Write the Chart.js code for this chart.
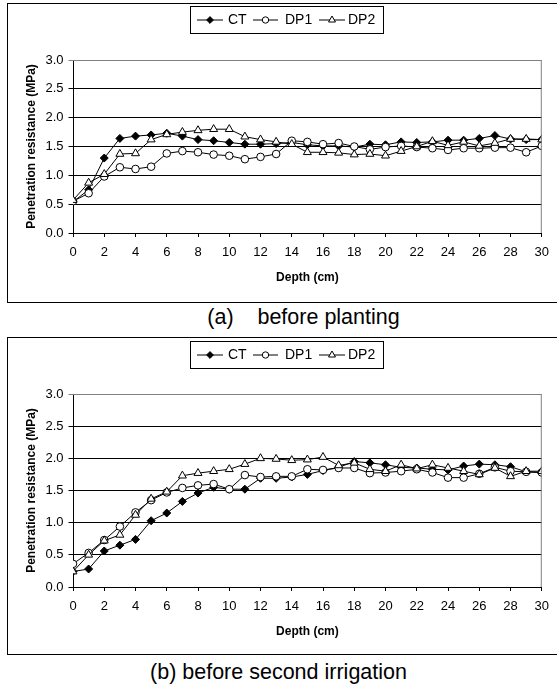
<!DOCTYPE html>
<html>
<head>
<meta charset="utf-8">
<script src="https://cdn.jsdelivr.net/npm/chart.js@4/dist/chart.umd.min.js"></script>
<style>
  html, body { margin:0; padding:0; background:#fff; }
  body { width:557px; height:687px; position:relative; overflow:hidden; font-family:"Liberation Sans", Arial, sans-serif; }
  .box { position:absolute; border:1.5px solid #000; box-sizing:border-box; }
  .cv { position:absolute; left:0; }
  .cap { position:absolute; left:0; width:557px; text-align:center; font-size:21.5px; color:#000; white-space:pre; }
</style>
</head>
<body>
<div class="box" style="left:7px; top:3px; width:560px; height:300px;"></div>
<div class="box" style="left:7px; top:337px; width:560px; height:318px;"></div>
<div class="cv" style="top:0px; width:557px; height:300px;"><canvas id="ca"></canvas></div>
<div class="cv" style="top:330px; width:557px; height:320px;"><canvas id="cb"></canvas></div>
<div class="cap" style="top:305px; padding-left:50px; box-sizing:border-box;">(a)    before planting</div>
<div class="cap" style="top:660px;">(b) before second irrigation</div>
<script>
// ---- data ----
const depth = [0,1,2,3,4,5,6,7,8,9,10,11,12,13,14,15,16,17,18,19,20,21,22,23,24,25,26,27,28,29,30];
const seriesNames = ['CT', 'DP1', 'DP2'];
const yTicks = [0.0, 0.5, 1.0, 1.5, 2.0, 2.5, 3.0];

// (a) before planting
const ctA  = [0.54,0.75,1.30,1.64,1.68,1.70,1.73,1.68,1.62,1.60,1.57,1.54,1.54,1.55,1.57,1.53,1.51,1.51,1.49,1.54,1.53,1.58,1.57,1.58,1.61,1.61,1.64,1.69,1.63,1.62,1.62];
const dp1A = [0.55,0.69,0.98,1.14,1.11,1.15,1.38,1.42,1.40,1.36,1.34,1.28,1.32,1.37,1.60,1.58,1.54,1.56,1.50,1.45,1.49,1.51,1.49,1.47,1.44,1.47,1.47,1.48,1.48,1.40,1.51];
const dp2A = [0.57,0.87,1.02,1.37,1.38,1.62,1.71,1.75,1.78,1.80,1.80,1.67,1.62,1.58,1.54,1.40,1.40,1.39,1.36,1.37,1.34,1.42,1.50,1.59,1.52,1.58,1.51,1.56,1.63,1.63,1.62];

// (b) before second irrigation
const ctB  = [0.24,0.28,0.56,0.65,0.74,1.03,1.15,1.33,1.46,1.55,1.52,1.52,1.69,1.69,1.71,1.75,1.81,1.86,1.95,1.93,1.90,1.86,1.85,1.83,1.82,1.88,1.91,1.90,1.87,1.79,1.78];
const dp1B = [0.36,0.53,0.73,0.94,1.16,1.35,1.47,1.54,1.58,1.60,1.52,1.74,1.71,1.72,1.72,1.83,1.82,1.85,1.85,1.77,1.78,1.80,1.83,1.78,1.70,1.70,1.76,1.86,1.80,1.79,1.78];
const dp2B = [0.24,0.50,0.72,0.81,1.12,1.37,1.48,1.73,1.77,1.80,1.83,1.91,2.00,1.99,1.97,1.98,2.02,1.89,1.93,1.83,1.80,1.90,1.84,1.90,1.85,1.80,1.75,1.85,1.72,1.80,1.80];

const FONT = '"Liberation Sans", Arial, sans-serif';
Chart.defaults.font.family = FONT;
Chart.defaults.color = '#000';

const styles = [
  { pointStyle:'rectRot', radius:4, bg:'#000' },
  { pointStyle:'circle', radius:3.8, bg:'#fff' },
  { pointStyle:'triangle', radius:4.6, bg:'#fff' }
];

function mkDatasets(arrs) {
  return arrs.map((arr, i) => ({
    label: seriesNames[i],
    data: depth.map((d, k) => ({ x: d, y: arr[k] })),
    borderColor: '#000',
    borderWidth: 1,
    backgroundColor: styles[i].bg,
    pointStyle: styles[i].pointStyle,
    pointRadius: styles[i].radius,
    pointBackgroundColor: styles[i].bg,
    pointBorderColor: '#000',
    pointBorderWidth: 1,
    tension: 0,
    fill: false,
    order: 3 - i
  }));
}

const frame = {
  id: 'frame',
  afterDatasetsDraw(chart) {
    const { ctx, chartArea: a } = chart;
    ctx.save();
    ctx.strokeStyle = '#808080';
    ctx.lineWidth = 1;
    ctx.beginPath();
    ctx.moveTo(a.left, a.top + 0.5);
    ctx.lineTo(a.right - 0.5, a.top + 0.5);
    ctx.lineTo(a.right - 0.5, a.bottom);
    ctx.stroke();
    ctx.restore();
  },
  afterDraw(chart) {
    const o = chart.options.plugins.frame;
    if (!o) return;
    const ctx = chart.ctx;
    ctx.save();
    ctx.fillStyle = '#fff';
    ctx.fillRect(o.x, o.y, o.w, o.h);
    ctx.strokeStyle = '#000';
    ctx.lineWidth = 1;
    ctx.strokeRect(o.x + 0.5, o.y + 0.5, o.w, o.h);
    const cy = o.y + o.h / 2 + 0.5;
    const lines = [[197, 223, 228], [253, 278, 285], [319, 345, 348]];
    lines.forEach((L, i) => {
      ctx.strokeStyle = '#000';
      ctx.lineWidth = 1;
      ctx.beginPath();
      ctx.moveTo(L[0], cy); ctx.lineTo(L[1], cy); ctx.stroke();
      ctx.fillStyle = styles[i].bg;
      Chart.helpers.drawPoint(ctx, {
        pointStyle: styles[i].pointStyle, radius: styles[i].radius - 0.6, borderWidth: 1, rotation: 0
      }, (L[0] + L[1]) / 2, cy);
      ctx.fillStyle = '#000';
      ctx.font = '14px ' + FONT;
      ctx.textBaseline = 'middle';
      ctx.textAlign = 'left';
      ctx.fillText(seriesNames[i], L[2], cy + 0.5);
    });
    ctx.restore();
  }
};

function mkChart(id, arrs, top, bottomPad, legendBox) {
  return new Chart(document.getElementById(id), {
    type: 'line',
    data: { datasets: mkDatasets(arrs) },
    plugins: [frame],
    options: {
      responsive: true,
      maintainAspectRatio: false,
      animation: false,
      events: [],
      layout: { padding: { left: 0, right: 15, top: top, bottom: bottomPad } },
      plugins: {
        legend: { display: false },
        tooltip: { enabled: false },
        frame: legendBox
      },
      scales: {
        x: {
          type: 'linear', min: 0, max: 30,
          afterFit(s) { s.height = 52; },
          afterBuildTicks(s) { s.ticks = depth.filter(d => d % 2 === 0).map(v => ({ value: v })); },
          ticks: { font: { size: 13 }, padding: 8, maxRotation: 0, autoSkip: false },
          grid: { drawOnChartArea: false, color: '#000', tickLength: 4 },
          border: { color: '#000', width: 1 },
          title: { display: true, text: 'Depth (cm)', font: { size: 12, weight: 'bold' }, padding: { top: 0, bottom: 0 } }
        },
        y: {
          min: 0, max: 3,
          afterFit(s) { s.width = 73; },
          afterBuildTicks(s) { s.ticks = yTicks.map(v => ({ value: v })); },
          ticks: { font: { size: 13 }, padding: 5, callback: v => Number(v).toFixed(1) },
          grid: { color: c => (c.tick && c.tick.value === 3 ? '#808080' : '#000'), tickLength: 4.5 },
          border: { color: '#000', width: 1 },
          title: { display: true, text: 'Penetration resistance (MPa)', font: { size: 12, weight: 'bold' }, padding: { top: 24, bottom: 0 } }
        }
      }
    }
  });
}

mkChart('ca', [ctA, dp1A, dp2A], 60, 15, { x: 190, y: 6, w: 193, h: 27 });
mkChart('cb', [ctB, dp1B, dp2B], 64, 11, { x: 190, y: 11, w: 193, h: 27 });
</script>
</body>
</html>
